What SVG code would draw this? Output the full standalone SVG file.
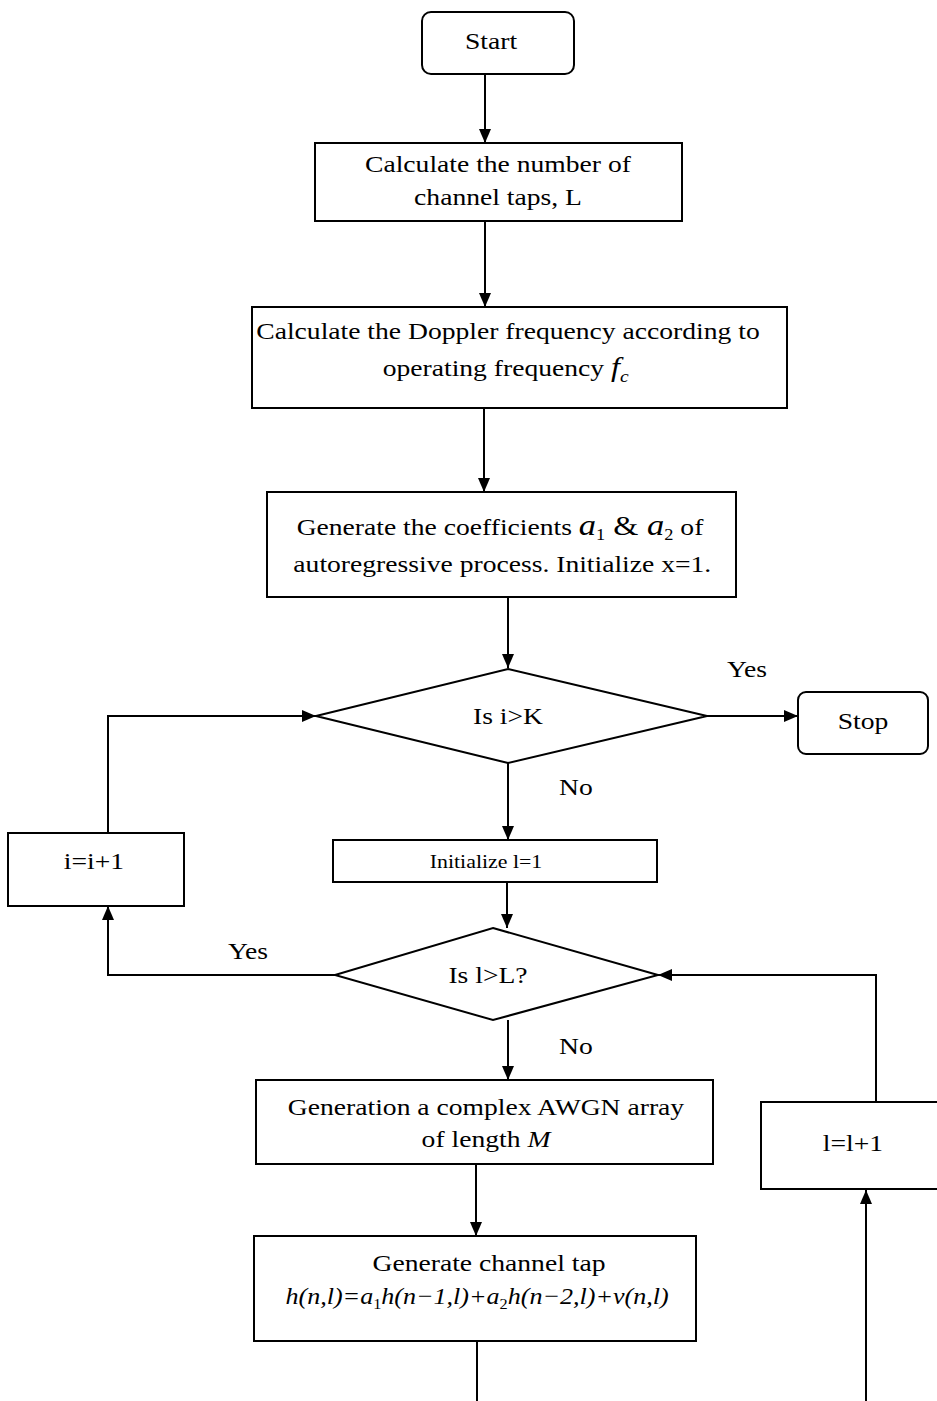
<svg xmlns="http://www.w3.org/2000/svg" width="937" height="1401" viewBox="0 0 937 1401">
  <style>
    .box { fill: #fff; stroke: #000; stroke-width: 2; }
    .ln { fill: none; stroke: #000; stroke-width: 2; }
    .t { font-family: "Liberation Serif", "Times New Roman", serif; font-size: 24px; fill: #000; text-anchor: middle; }
    .s { font-size: 19px; }
    .i { font-style: italic; }
  </style>
  <defs>
    <!-- solid triangular arrowhead; labels are stretched 1.15x horizontally about their centre -->
    <marker id="arr" viewBox="0 0 14 12" refX="14" refY="6" markerWidth="14" markerHeight="12" markerUnits="userSpaceOnUse" orient="auto">
      <path d="M0,0 L14,6 L0,12 Z" fill="#000"/>
    </marker>
  </defs>
  <rect width="937" height="1401" fill="#fff"/>

  <!-- connectors -->
  <g id="connectors">
    <path class="ln" d="M485,74 V143" marker-end="url(#arr)"/>
    <path class="ln" d="M485,221 V307" marker-end="url(#arr)"/>
    <path class="ln" d="M484,408 V492" marker-end="url(#arr)"/>
    <path class="ln" d="M508,597 V668" marker-end="url(#arr)"/>
    <path class="ln" d="M707,716 H798" marker-end="url(#arr)"/>
    <path class="ln" d="M508,763 V840" marker-end="url(#arr)"/>
    <path class="ln" d="M507,882 V928" marker-end="url(#arr)"/>
    <path class="ln" d="M335,975 H108 V906" marker-end="url(#arr)"/>
    <path class="ln" d="M108,833 V716 H316" marker-end="url(#arr)"/>
    <path class="ln" d="M508,1020 V1080" marker-end="url(#arr)"/>
    <path class="ln" d="M476,1164 V1236" marker-end="url(#arr)"/>
    <path class="ln" d="M477,1341 V1401"/>
    <path class="ln" d="M866,1401 V1190" marker-end="url(#arr)"/>
    <path class="ln" d="M876,1102 V975 H658" marker-end="url(#arr)"/>
    <text class="t" x="747" y="677" transform="matrix(1.15 0 0 1 -112.05 0)">Yes</text>
    <text class="t" x="576" y="795" transform="matrix(1.15 0 0 1 -86.4 0)">No</text>
    <text class="t" x="248" y="959" transform="matrix(1.15 0 0 1 -37.2 0)">Yes</text>
    <text class="t" x="576" y="1054" transform="matrix(1.15 0 0 1 -86.4 0)">No</text>
  </g>

  <g id="start">
    <rect class="box" x="422" y="12" width="152" height="62" rx="9"/>
    <text class="t" x="491" y="49" transform="matrix(1.15 0 0 1 -73.65 0)">Start</text>
  </g>

  <g id="calc-taps">
    <rect class="box" x="315" y="143" width="367" height="78"/>
    <g transform="matrix(1.15 0 0 1 -74.7 0)">
      <text class="t" x="498" y="172">Calculate the number of</text>
      <text class="t" x="498" y="205">channel taps, L</text>
    </g>
  </g>

  <g id="calc-doppler">
    <rect class="box" x="252" y="307" width="535" height="101"/>
    <g transform="matrix(1.15 0 0 1 -76.2 0)">
      <text class="t" x="508" y="339">Calculate the Doppler frequency according to</text>
      <text class="t" x="506" y="376">operating frequency <tspan class="i" font-size="28">f</tspan><tspan class="i" font-size="17" dy="6">c</tspan></text>
    </g>
  </g>

  <g id="gen-coeff">
    <rect class="box" x="267" y="492" width="469" height="105"/>
    <g transform="matrix(1.15 0 0 1 -75 0)">
      <text class="t" x="500" y="535">Generate the coefficients <tspan class="i" font-size="30">a</tspan><tspan font-size="16" dy="5">1</tspan><tspan font-size="28" dy="-5"> &amp;</tspan><tspan class="i" font-size="30"> a</tspan><tspan font-size="16" dy="5">2</tspan><tspan dy="-5"> of</tspan></text>
      <text class="t" x="502" y="572">autoregressive process. Initialize x=1.</text>
    </g>
  </g>

  <g id="check-i">
    <polygon class="box" points="508,669 707,716 508,763 316,716"/>
    <text class="t" x="508" y="724" transform="matrix(1.15 0 0 1 -76.2 0)">Is i&gt;K</text>
  </g>

  <g id="stop">
    <rect class="box" x="798" y="692" width="130" height="62" rx="8"/>
    <text class="t" x="863" y="729" transform="matrix(1.15 0 0 1 -129.45 0)">Stop</text>
  </g>

  <g id="init-l">
    <rect class="box" x="333" y="840" width="324" height="42"/>
    <text class="t s" x="486" y="868" transform="matrix(1.15 0 0 1 -72.9 0)">Initialize l=1</text>
  </g>

  <g id="inc-i">
    <rect class="box" x="8" y="833" width="176" height="73"/>
    <text class="t" x="94" y="869" transform="matrix(1.15 0 0 1 -14.1 0)">i=i+1</text>
  </g>

  <g id="check-l">
    <polygon class="box" points="493,928 658,975 493,1020 335,975"/>
    <text class="t" x="488" y="983" transform="matrix(1.15 0 0 1 -73.2 0)">Is l&gt;L?</text>
  </g>

  <g id="awgn">
    <rect class="box" x="256" y="1080" width="457" height="84"/>
    <g transform="matrix(1.15 0 0 1 -72.9 0)">
      <text class="t" x="486" y="1115">Generation a complex AWGN array</text>
      <text class="t" x="486" y="1147">of length <tspan class="i">M</tspan></text>
    </g>
  </g>

  <g id="inc-l">
    <rect class="box" x="761" y="1102" width="186" height="87"/>
    <text class="t" x="853" y="1151" transform="matrix(1.15 0 0 1 -127.95 0)">l=l+1</text>
  </g>

  <g id="gen-tap">
    <rect class="box" x="254" y="1236" width="442" height="105"/>
    <text class="t" x="489" y="1271" transform="matrix(1.15 0 0 1 -73.35 0)">Generate channel tap</text>
    <text class="t i" font-size="23" x="477" y="1304" transform="matrix(1.085 0 0 1 -40.5 0)">h(n,l)=a<tspan font-style="normal" font-size="15" dy="5">1</tspan><tspan dy="-5">h(n−1,l)+a</tspan><tspan font-style="normal" font-size="15" dy="5">2</tspan><tspan dy="-5">h(n−2,l)+v(n,l)</tspan></text>
  </g>
</svg>
